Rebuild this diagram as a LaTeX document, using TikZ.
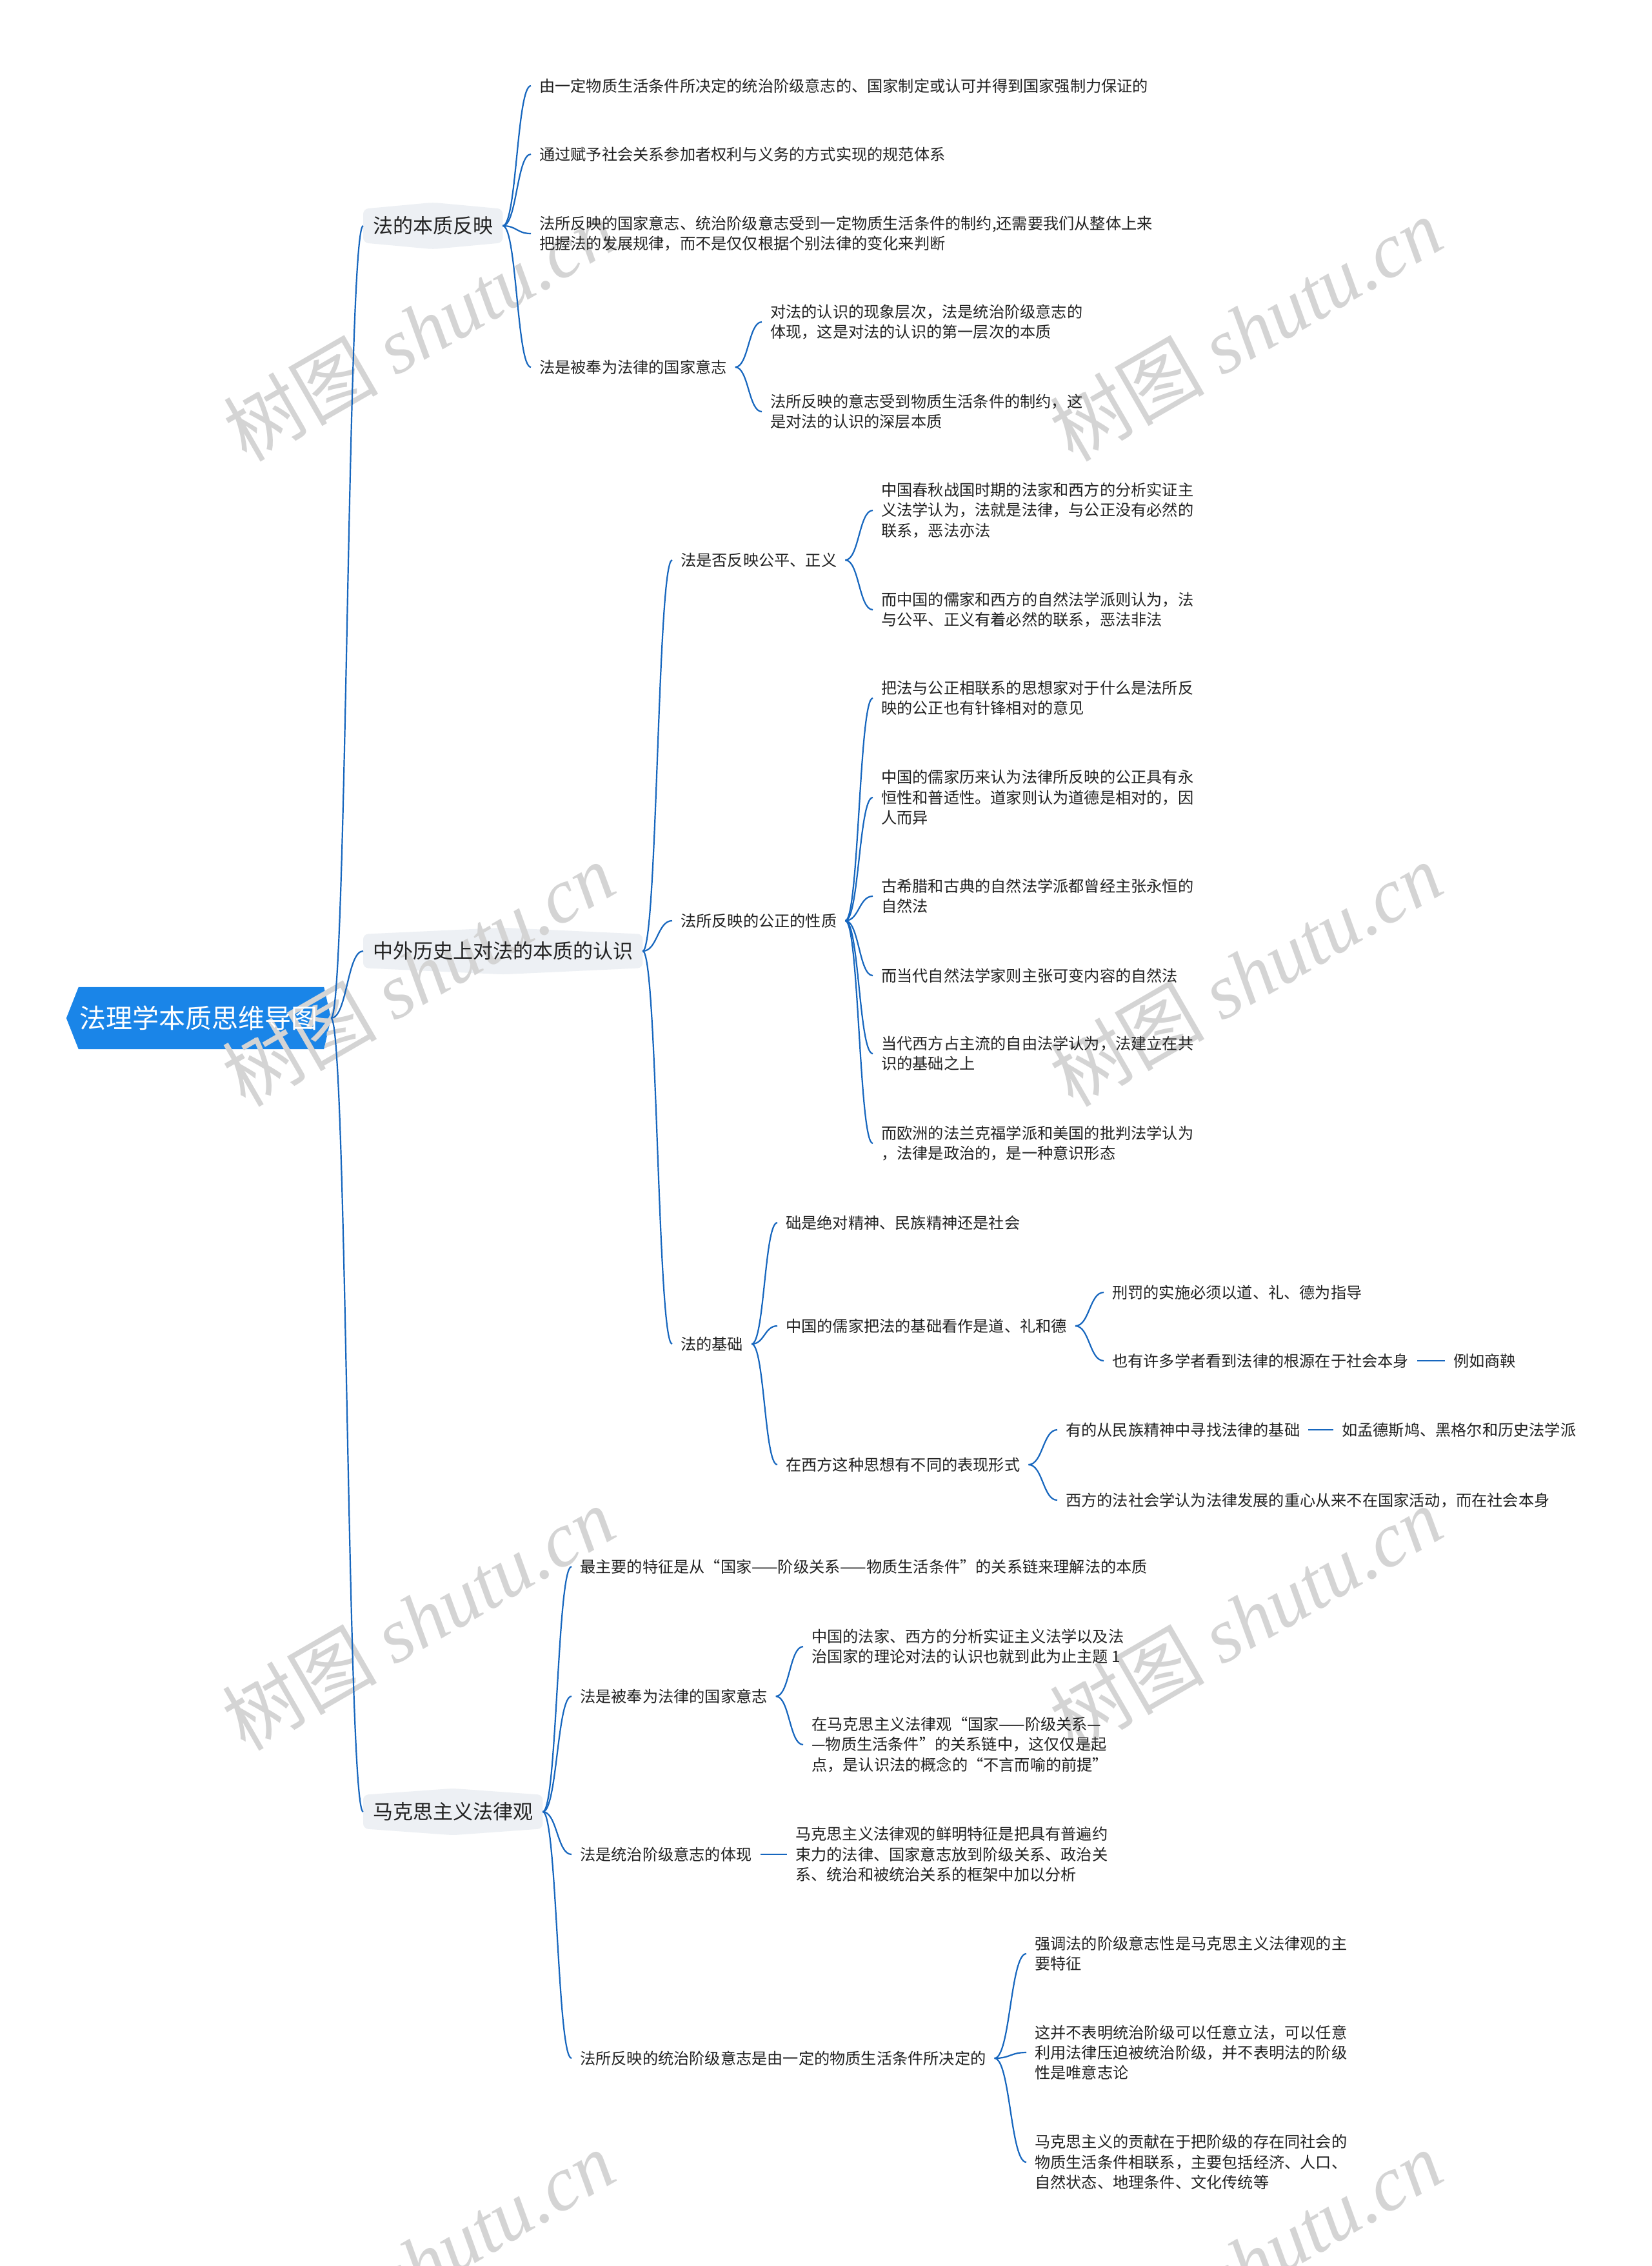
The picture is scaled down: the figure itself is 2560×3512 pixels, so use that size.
\documentclass[tikz,border=0pt]{standalone}
\usepackage{fontspec}
\setmainfont{Noto Sans CJK SC}
\newfontfamily\wmserif{Liberation Serif}
\usetikzlibrary{calc}
\definecolor{linkblue}{RGB}{22,102,190}
\definecolor{rootblue}{RGB}{26,133,232}
\definecolor{topicfill}{RGB}{237,240,244}
\definecolor{txt}{RGB}{34,34,34}
\definecolor{wmgray}{RGB}{212,212,212}
\newcommand\mmleaf{\fontsize{24.2}{31.3}\selectfont}
\newcommand\mmtopic{\fontsize{31}{37}\selectfont}
\newcommand\mmroot{\fontsize{41}{49}\selectfont}
\newcommand\mmwm{\fontsize{120}{130}\selectfont}
\pgfdeclarelayer{bg}
\pgfdeclarelayer{wm}
\pgfsetlayers{bg,wm,main}
\begin{document}
\begin{tikzpicture}[x=1pt,y=-1pt,
  rootnode/.style={font=\mmroot, text=white, minimum width=410pt, minimum height=96pt, inner sep=0pt},
  topic/.style={font=\mmtopic, text=txt, minimum height=52pt, inner xsep=15pt, inner ysep=0pt, anchor=west},
  leaf/.style={font=\mmleaf, text=txt, inner xsep=13pt, inner ysep=3pt, align=left, anchor=west},
  wmark/.style={font=\mmwm, text=wmgray, rotate=30, inner sep=0pt},
  conn/.style={draw=linkblue, line width=2.2pt,
    to path={let \p1=(\tikztostart), \p2=(\tikztotarget), \p3=($(\p1)!0.5!(\p2)$) in
      .. controls (\x3,\y1) and (\x3,\y2) .. (\tikztotarget)}}
]
\useasboundingbox (0,0) rectangle (2560,3512);
\begin{pgfonlayer}{bg}
\fill[white] (0,0) rectangle (2560,3512);
\end{pgfonlayer}

% watermarks
\begin{pgfonlayer}{wm}
\foreach \wx/\wy/\wn in {650/510/1,1931/510/2,648/1510/3,1931/1510/4,648/2508/5,1931/2508/6,648/3506/7,1931/3506/8}
  \node[wmark] (wm\wn) at (\wx,\wy) {树图 {\wmserif\itshape shutu.cn}};
\end{pgfonlayer}

% root
\node[rootnode] (root) at (308,1578) {法理学本质思维导图};

% level 1
\node[topic] (A) at (563,350) {法的本质反映};
\node[topic] (B) at (563,1474) {中外历史上对法的本质的认识};
\node[topic] (C) at (563,2808) {马克思主义法律观};

\begin{pgfonlayer}{bg}
\fill[rootblue] (root.west) -- ([xshift=19pt]root.north west) -- ([xshift=-11pt]root.north east)
  -- (root.east) -- ([xshift=-11pt]root.south east) -- ([xshift=19pt]root.south west) -- cycle;
\foreach \n in {A,B,C}
  \fill[topicfill, rounded corners=8pt] (\n.north west) -- ([yshift=10pt]\n.north) -- (\n.north east)
    -- (\n.south east) -- ([yshift=-10pt]\n.south) -- (\n.south west) -- cycle;
\end{pgfonlayer}

% A branch
\node[leaf] (A1) at (823,133) {由一定物质生活条件所决定的统治阶级意志的、国家制定或认可并得到国家强制力保证的};
\node[leaf] (A2) at (823,239) {通过赋予社会关系参加者权利与义务的方式实现的规范体系};
\node[leaf] (A3) at (823,362) {法所反映的国家意志、统治阶级意志受到一定物质生活条件的制约,还需要我们从整体上来\\把握法的发展规律，而不是仅仅根据个别法律的变化来判断};
\node[leaf] (A4) at (823,569) {法是被奉为法律的国家意志};
\node[leaf] (A4a) at (1181,499) {对法的认识的现象层次，法是统治阶级意志的\\体现，这是对法的认识的第一层次的本质};
\node[leaf] (A4b) at (1181,638) {法所反映的意志受到物质生活条件的制约，这\\是对法的认识的深层本质};

% B branch
\node[leaf] (B1) at (1042,868) {法是否反映公平、正义};
\node[leaf] (B1a) at (1353,791) {中国春秋战国时期的法家和西方的分析实证主\\义法学认为，法就是法律，与公正没有必然的\\联系，恶法亦法};
\node[leaf] (B1b) at (1353,945) {而中国的儒家和西方的自然法学派则认为，法\\与公平、正义有着必然的联系，恶法非法};
\node[leaf] (B2) at (1042,1427) {法所反映的公正的性质};
\node[leaf] (B2a) at (1353,1082) {把法与公正相联系的思想家对于什么是法所反\\映的公正也有针锋相对的意见};
\node[leaf] (B2b) at (1353,1236) {中国的儒家历来认为法律所反映的公正具有永\\恒性和普适性。道家则认为道德是相对的，因\\人而异};
\node[leaf] (B2c) at (1353,1389) {古希腊和古典的自然法学派都曾经主张永恒的\\自然法};
\node[leaf] (B2d) at (1353,1512) {而当代自然法学家则主张可变内容的自然法};
\node[leaf] (B2e) at (1353,1633) {当代西方占主流的自由法学认为，法建立在共\\识的基础之上};
\node[leaf] (B2f) at (1353,1772) {而欧洲的法兰克福学派和美国的批判法学认为\\，法律是政治的，是一种意识形态};
\node[leaf] (B3) at (1042,2083) {法的基础};
\node[leaf] (B3a) at (1205,1895) {础是绝对精神、民族精神还是社会};
\node[leaf] (B3b) at (1205,2055) {中国的儒家把法的基础看作是道、礼和德};
\node[leaf] (B3b1) at (1711,2003) {刑罚的实施必须以道、礼、德为指导};
\node[leaf] (B3b2) at (1711,2109) {也有许多学者看到法律的根源在于社会本身};
\node[leaf] (B3b2x) at (2240,2109) {例如商鞅};
\node[leaf] (B3c) at (1205,2270) {在西方这种思想有不同的表现形式};
\node[leaf] (B3c1) at (1639,2216) {有的从民族精神中寻找法律的基础};
\node[leaf] (B3c1x) at (2067,2216) {如孟德斯鸠、黑格尔和历史法学派};
\node[leaf] (B3c2) at (1639,2325) {西方的法社会学认为法律发展的重心从来不在国家活动，而在社会本身};

% C branch
\node[leaf] (C1) at (886,2428) {最主要的特征是从“国家——阶级关系——物质生活条件”的关系链来理解法的本质};
\node[leaf] (C2) at (886,2629) {法是被奉为法律的国家意志};
\node[leaf] (C2a) at (1245,2552) {中国的法家、西方的分析实证主义法学以及法\\治国家的理论对法的认识也就到此为止主题 1};
\node[leaf] (C2b) at (1245,2704) {在马克思主义法律观“国家——阶级关系—\\—物质生活条件”的关系链中，这仅仅是起\\点，是认识法的概念的“不言而喻的前提”};
\node[leaf] (C3) at (886,2874) {法是统治阶级意志的体现};
\node[leaf] (C3a) at (1220,2874) {马克思主义法律观的鲜明特征是把具有普遍约\\束力的法律、国家意志放到阶级关系、政治关\\系、统治和被统治关系的框架中加以分析};
\node[leaf] (C4) at (886,3190) {法所反映的统治阶级意志是由一定的物质生活条件所决定的};
\node[leaf] (C4a) at (1591,3028) {强调法的阶级意志性是马克思主义法律观的主\\要特征};
\node[leaf] (C4b) at (1591,3181) {这并不表明统治阶级可以任意立法，可以任意\\利用法律压迫被统治阶级，并不表明法的阶级\\性是唯意志论};
\node[leaf] (C4c) at (1591,3351) {马克思主义的贡献在于把阶级的存在同社会的\\物质生活条件相联系，主要包括经济、人口、\\自然状态、地理条件、文化传统等};

% connectors
\foreach \p/\c in {root/A,root/B,root/C,
  A/A1,A/A2,A/A3,A/A4,A4/A4a,A4/A4b,
  B/B1,B/B2,B/B3,B1/B1a,B1/B1b,
  B2/B2a,B2/B2b,B2/B2c,B2/B2d,B2/B2e,B2/B2f,
  B3/B3a,B3/B3b,B3/B3c,B3b/B3b1,B3b/B3b2,B3b2/B3b2x,
  B3c/B3c1,B3c/B3c2,B3c1/B3c1x,
  C/C1,C/C2,C/C3,C/C4,C2/C2a,C2/C2b,C3/C3a,C4/C4a,C4/C4b,C4/C4c}
  \draw[conn] (\p.east) to (\c.west);
\end{tikzpicture}
\end{document}
